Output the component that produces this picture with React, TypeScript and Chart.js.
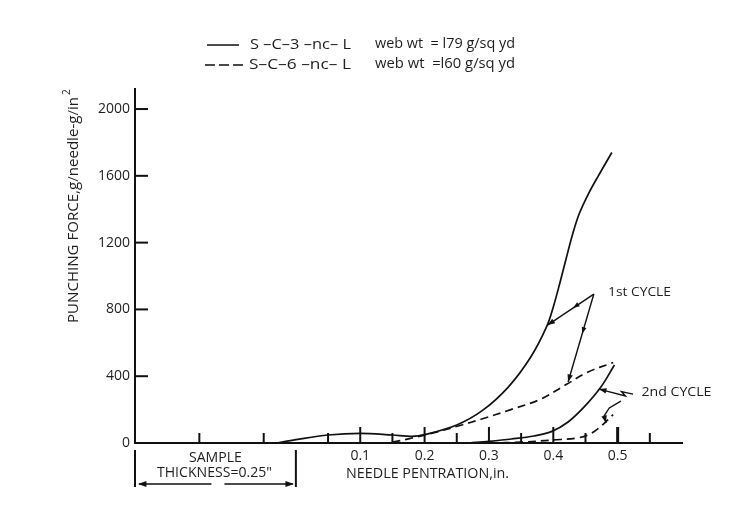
import { useEffect, useRef } from "react";
import { Chart, registerables } from "chart.js";

Chart.register(...registerables);

// ---------- data ----------
const xTickValues = [-0.15, -0.05, 0.05, 0.1, 0.15, 0.2, 0.25, 0.3, 0.35, 0.4, 0.45, 0.5, 0.55];
const xLabelValues = [0.1, 0.2, 0.3, 0.4, 0.5];
const yTickValues = [0, 400, 800, 1200, 1600, 2000];

// S-C-3-nc-L, 1st cycle (solid)
const s3Cycle1X = [-0.03, 0.0, 0.05, 0.1, 0.15, 0.18, 0.2, 0.25, 0.29, 0.33, 0.365, 0.39, 0.4, 0.41, 0.42, 0.43, 0.44, 0.455, 0.47, 0.491];
const s3Cycle1Y = [0, 20, 48, 58, 48, 40, 50, 108, 195, 335, 515, 700, 815, 955, 1105, 1250, 1370, 1495, 1600, 1740];
// S-C-6-nc-L, 1st cycle (dashed)
const s6Cycle1X = [0.15, 0.175, 0.215, 0.255, 0.29, 0.334, 0.38, 0.42, 0.454, 0.493];
const s6Cycle1Y = [5, 25, 62, 105, 145, 200, 262, 350, 425, 482];
// S-C-3-nc-L, 2nd cycle (solid)
const s3Cycle2X = [0.27, 0.3, 0.335, 0.37, 0.397, 0.423, 0.448, 0.474, 0.495];
const s3Cycle2Y = [0, 10, 24, 42, 68, 126, 216, 335, 467];
// S-C-6-nc-L, 2nd cycle (dashed)
const s6Cycle2X = [0.3, 0.35, 0.4, 0.44, 0.46, 0.477, 0.493];
const s6Cycle2Y = [0, 5, 18, 32, 60, 110, 170];

// annotation pointers (data coordinates)
const cycle1PointerA = [[0.463, 892], [0.391, 706]];
const cycle1PointerB = [[0.463, 892], [0.423, 365]];
const cycle2PointerA = [[0.524, 293], [0.506, 308], [0.512, 282], [0.471, 323]];
const cycle2PointerB = [[0.505, 251], [0.487, 210], [0.479, 162], [0.482, 120]];
const cycleLabels = ["1st CYCLE", "2nd CYCLE"];
const cycleLabelPos = [[0.485, 904], [0.537, 305]];

const legendLabels = ["S –C–3 –nc– L", "S–C–6 –nc– L"];
const legendWeights = ["web wt  = l79 g/sq yd", "web wt  =l60 g/sq yd"];
const xTitle = "NEEDLE PENTRATION,in.";
const yTitle = "PUNCHING FORCE,g/needle-g/in";
const yTitleSup = "2";
const sampleText = ["SAMPLE", "THICKNESS=0.25\""];
const sampleRange = [-0.25, 0];

const FONT = "'Open Sans', 'Noto Sans', sans-serif";
const INK = "#111111";
const TEXT = "#1e1e1e";

function pts(xs: number[], ys: number[]) {
  return xs.map((x, i) => ({ x, y: ys[i] }));
}

function fitText(ctx: CanvasRenderingContext2D, text: string, x: number, y: number, target: number, align: "left" | "center") {
  const w = ctx.measureText(text).width;
  const s = target / w;
  ctx.save();
  ctx.translate(x, y);
  ctx.scale(s, 1);
  ctx.textAlign = align;
  ctx.fillText(text, 0, 0);
  ctx.restore();
}

function arrowHead(ctx: CanvasRenderingContext2D, fx: number, fy: number, tx: number, ty: number, size = 7) {
  const a = Math.atan2(ty - fy, tx - fx);
  ctx.beginPath();
  ctx.moveTo(tx, ty);
  ctx.lineTo(tx - size * Math.cos(a - 0.35), ty - size * Math.sin(a - 0.35));
  ctx.lineTo(tx - size * Math.cos(a + 0.35), ty - size * Math.sin(a + 0.35));
  ctx.closePath();
  ctx.fill();
}

const decorPlugin = {
  id: "decor",
  afterDraw(chart: any) {
    const ctx: CanvasRenderingContext2D = chart.ctx;
    const xs = chart.scales.x;
    const ys = chart.scales.y;
    const X = (v: number) => xs.getPixelForValue(v);
    const Y = (v: number) => ys.getPixelForValue(v);
    const area = chart.chartArea;
    ctx.save();
    ctx.strokeStyle = INK;
    ctx.fillStyle = INK;
    ctx.lineCap = "butt";

    // inward y ticks
    ctx.lineWidth = 2;
    yTickValues.forEach((v) => {
      if (v === 0) return;
      ctx.beginPath();
      ctx.moveTo(area.left, Y(v));
      ctx.lineTo(area.left + 13, Y(v));
      ctx.stroke();
    });
    // upward x ticks
    xTickValues.forEach((v) => {
      const major = xLabelValues.some((m) => Math.abs(m - v) < 1e-6);
      const len = major ? 16 : 10;
      ctx.lineWidth = Math.abs(v - 0.5) < 1e-6 ? 3 : 2;
      const px = X(v);
      ctx.beginPath();
      ctx.moveTo(px, area.bottom);
      ctx.lineTo(px, area.bottom - len);
      ctx.stroke();
    });

    // pointers
    ctx.lineWidth = 1.4;
    const poly = (p: number[][], mid: boolean) => {
      ctx.beginPath();
      p.forEach((q, i) => (i === 0 ? ctx.moveTo(X(q[0]), Y(q[1])) : ctx.lineTo(X(q[0]), Y(q[1]))));
      ctx.stroke();
      const n = p.length;
      arrowHead(ctx, X(p[n - 2][0]), Y(p[n - 2][1]), X(p[n - 1][0]), Y(p[n - 1][1]), 8);
      if (mid) {
        const ax = X(p[0][0]), ay = Y(p[0][1]);
        const bx = X(p[n - 1][0]), by = Y(p[n - 1][1]);
        const mx = ax + (bx - ax) * 0.45, my = ay + (by - ay) * 0.45;
        arrowHead(ctx, ax, ay, mx, my, 7);
      }
    };
    poly(cycle1PointerA, true);
    poly(cycle1PointerB, true);
    poly(cycle2PointerA, false);
    poly(cycle2PointerB, false);

    // cycle labels
    ctx.fillStyle = TEXT;
    ctx.font = `13px ${FONT}`;
    ctx.textBaseline = "middle";
    fitText(ctx, cycleLabels[0], X(cycleLabelPos[0][0]), Y(cycleLabelPos[0][1]), 63, "left");
    fitText(ctx, cycleLabels[1], X(cycleLabelPos[1][0]), Y(cycleLabelPos[1][1]), 70, "left");

    // sample thickness annotation
    const l = X(sampleRange[0]);
    const r = X(sampleRange[1]);
    const mid = (l + r) / 2;
    ctx.strokeStyle = INK;
    ctx.fillStyle = INK;
    ctx.lineWidth = 2;
    ctx.beginPath();
    ctx.moveTo(l, area.bottom + 7);
    ctx.lineTo(l, area.bottom + 44);
    ctx.moveTo(r, area.bottom + 7);
    ctx.lineTo(r, area.bottom + 44);
    ctx.stroke();
    ctx.lineWidth = 1.6;
    const ay = area.bottom + 41;
    ctx.beginPath();
    ctx.moveTo(mid - 4, ay);
    ctx.lineTo(l + 4, ay);
    ctx.moveTo(mid + 9, ay);
    ctx.lineTo(r - 3, ay);
    ctx.stroke();
    arrowHead(ctx, mid, ay, l + 3, ay, 9);
    arrowHead(ctx, mid, ay, r - 2, ay, 9);
    ctx.fillStyle = TEXT;
    ctx.font = `14px ${FONT}`;
    ctx.textBaseline = "middle";
    fitText(ctx, sampleText[0], mid, area.bottom + 15, 53, "center");
    fitText(ctx, sampleText[1], mid - 1, area.bottom + 30, 115, "center");

    // x title
    fitText(ctx, xTitle, X(0.2) + 3, area.bottom + 31, 163, "center");

    // y title
    ctx.save();
    ctx.translate(74, 210);
    ctx.rotate(-Math.PI / 2);
    ctx.font = `15px ${FONT}`;
    ctx.textBaseline = "middle";
    fitText(ctx, yTitle, 0, 0, 226, "center");
    ctx.font = `10px ${FONT}`;
    ctx.textAlign = "left";
    ctx.fillText(yTitleSup, 115, -7);
    ctx.restore();

    // legend
    ctx.strokeStyle = INK;
    ctx.lineWidth = 1.5;
    ctx.beginPath();
    ctx.moveTo(207, 45);
    ctx.lineTo(239, 45);
    ctx.stroke();
    ctx.setLineDash([10, 4]);
    ctx.beginPath();
    ctx.moveTo(205, 65);
    ctx.lineTo(247, 65);
    ctx.stroke();
    ctx.setLineDash([]);
    ctx.fillStyle = TEXT;
    ctx.font = `14px ${FONT}`;
    ctx.textBaseline = "middle";
    fitText(ctx, legendLabels[0], 250, 45, 101, "left");
    fitText(ctx, legendLabels[1], 249, 65, 102, "left");
    fitText(ctx, legendWeights[0], 375, 44, 140, "left");
    fitText(ctx, legendWeights[1], 375, 64, 140, "left");

    ctx.restore();
  },
};

export default function App() {
  const ref = useRef<HTMLCanvasElement | null>(null);
  useEffect(() => {
    document.body.style.margin = "0";
    const canvas = ref.current;
    if (!canvas) return;
    const solid = { borderColor: INK, borderWidth: 1.7, pointRadius: 0, fill: false, tension: 0.35, showLine: true };
    const dashed = { ...solid, borderDash: [8, 5] };
    const chart = new Chart(canvas, {
      type: "scatter",
      data: {
        datasets: [
          { label: "S-C-3-nc-L 1st", data: pts(s3Cycle1X, s3Cycle1Y), ...solid },
          { label: "S-C-6-nc-L 1st", data: pts(s6Cycle1X, s6Cycle1Y), ...dashed },
          { label: "S-C-3-nc-L 2nd", data: pts(s3Cycle2X, s3Cycle2Y), ...solid },
          { label: "S-C-6-nc-L 2nd", data: pts(s6Cycle2X, s6Cycle2Y), ...dashed },
        ],
      },
      options: {
        animation: false,
        responsive: false,
        devicePixelRatio: 1,
        layout: { padding: { left: 0, right: 72, top: 89, bottom: 0 } },
        plugins: { legend: { display: false }, tooltip: { enabled: false }, title: { display: false } },
        scales: {
          x: {
            type: "linear",
            min: -0.25,
            max: 0.6,
            grid: { display: false, drawTicks: false },
            border: { display: true, color: INK, width: 2 },
            afterBuildTicks: (s: any) => {
              s.ticks = xLabelValues.map((v) => ({ value: v }));
            },
            afterFit: (s: any) => {
              s.height = 87;
            },
            ticks: {
              padding: 5,
              color: TEXT,
              font: { family: FONT, size: 14 },
              maxRotation: 0,
              autoSkip: false,
              callback: (v: any) => Number(v).toFixed(1),
            },
          },
          y: {
            type: "linear",
            min: 0,
            max: 2120,
            grid: { display: false, drawTicks: false },
            border: { display: true, color: INK, width: 2 },
            afterBuildTicks: (s: any) => {
              s.ticks = yTickValues.map((v) => ({ value: v }));
            },
            afterFit: (s: any) => {
              s.width = 135;
            },
            ticks: {
              padding: 5,
              color: TEXT,
              font: { family: FONT, size: 14 },
              autoSkip: false,
              callback: (v: any) => String(v),
            },
          },
        },
      },
      plugins: [decorPlugin],
    });
    return () => chart.destroy();
  }, []);
  return (
    <div style={{ width: 754, height: 530, overflow: "hidden", background: "#fff" }}>
      <canvas ref={ref} width={754} height={530} style={{ display: "block", width: 754, height: 530 }} />
    </div>
  );
}
